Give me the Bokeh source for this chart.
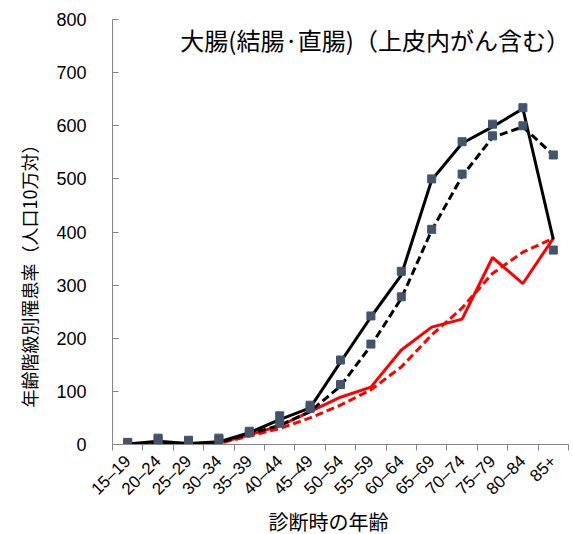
import math
from bokeh.plotting import figure
from bokeh.models import FixedTicker, Label, Range1d, Title
from bokeh.embed import file_html
from bokeh.resources import INLINE

categories = ["15–19", "20–24", "25–29", "30–34", "35–39", "40–44", "45–49",
              "50–54", "55–59", "60–64", "65–69", "70–74", "75–79", "80–84", "85+"]
black_solid = [1, 6, 2, 5, 22, 47, 69, 155, 240, 319, 498, 567, 598, 632, 386]
black_dashed = [0, 2, 1, 4, 20, 36, 62, 110, 186, 275, 403, 505, 578, 598, 545]
red_solid = [1, 2, 1, 3, 18, 35, 62, 89, 108, 178, 221, 236, 352, 303, 388]
red_dashed = [0, 1, 1, 2, 16, 30, 50, 74, 103, 146, 206, 257, 322, 362, 388]
markers_a = [4, 12, 8, 12, 25, 54, 74, 159, 242, 326, 500, 570, 603, 634, 366]
markers_b = [3, 8, 5, 9, 22, 40, 68, 113, 189, 278, 405, 509, 581, 600, 545]
y_ticks = [0, 100, 200, 300, 400, 500, 600, 700, 800]

title_text = "大腸(結腸·直腸)（上皮内がん含む）"
y_title = "年齢階級別罹患率（人口10万対）"
x_title = "診断時の年齢"

xs = [i + 0.5 for i in range(len(categories))]
bounds = list(range(len(categories) + 1))

p = figure(frame_width=456, frame_height=425, output_backend="svg", toolbar_location=None,
           x_range=Range1d(0, len(categories)), y_range=Range1d(0, 800),
           min_border_left=112, min_border_right=2, min_border_top=19, min_border_bottom=89)
p.outline_line_color = None
p.xgrid.visible = False
p.ygrid.visible = False

axis_gray = "#868686"
jp = "Noto Sans CJK JP"
num_font = "Liberation Sans"

# x axis
p.xaxis.ticker = FixedTicker(ticks=xs, minor_ticks=bounds)
p.xaxis.major_label_overrides = {x: c for x, c in zip(xs, categories)}
p.xaxis.major_label_orientation = math.pi / 4
p.xaxis.major_tick_in = 0
p.xaxis.major_tick_out = 0
p.xaxis.minor_tick_in = 0
p.xaxis.minor_tick_out = 6
p.xaxis.minor_tick_line_color = axis_gray
p.xaxis.axis_line_color = axis_gray
p.xaxis.major_label_text_font = num_font
p.xaxis.major_label_text_font_size = "17px"
p.xaxis.major_label_text_color = "#000000"
p.xaxis.major_label_standoff = 8

# y axis
p.yaxis.ticker = FixedTicker(ticks=y_ticks)
p.yaxis.major_tick_in = 6
p.yaxis.major_tick_out = 0
p.yaxis.minor_tick_in = 0
p.yaxis.minor_tick_out = 0
p.yaxis.major_tick_line_color = axis_gray
p.yaxis.axis_line_color = axis_gray
p.yaxis.major_label_text_font = num_font
p.yaxis.major_label_text_font_size = "18px"
p.yaxis.major_label_text_color = "#000000"
p.yaxis.major_label_standoff = 26

# lines
p.line(xs, red_dashed, line_color="#FF0000", line_width=3, line_dash="8 4")
p.line(xs, red_solid, line_color="#FF0000", line_width=3)
p.line(xs, black_dashed, line_color="#000000", line_width=3, line_dash="8 4")
p.line(xs, black_solid, line_color="#000000", line_width=3)

# markers
p.scatter(xs, markers_a, marker="square", size=8, fill_color="#44546A", line_color="#44546A")
p.scatter(xs, markers_b, marker="square", size=8, fill_color="#44546A", line_color="#44546A")

# chart title
p.add_layout(Label(x=2.23, y=762, text=title_text, text_font=jp, text_font_size="24px",
                   text_color="#000000", text_baseline="middle", text_align="left"))

# axis titles as side titles (allow offset along the axis)
p.add_layout(Title(text=y_title, align="left", offset=37, standoff=24,
                   text_font=jp, text_font_size="18px", text_font_style="normal",
                   text_color="#000000"), "left")
p.add_layout(Title(text=x_title, align="left", offset=156, standoff=-8,
                   text_font=jp, text_font_size="20px", text_font_style="normal",
                   text_color="#000000"), "below")

open("out.html", "w").write(file_html(p, INLINE))
